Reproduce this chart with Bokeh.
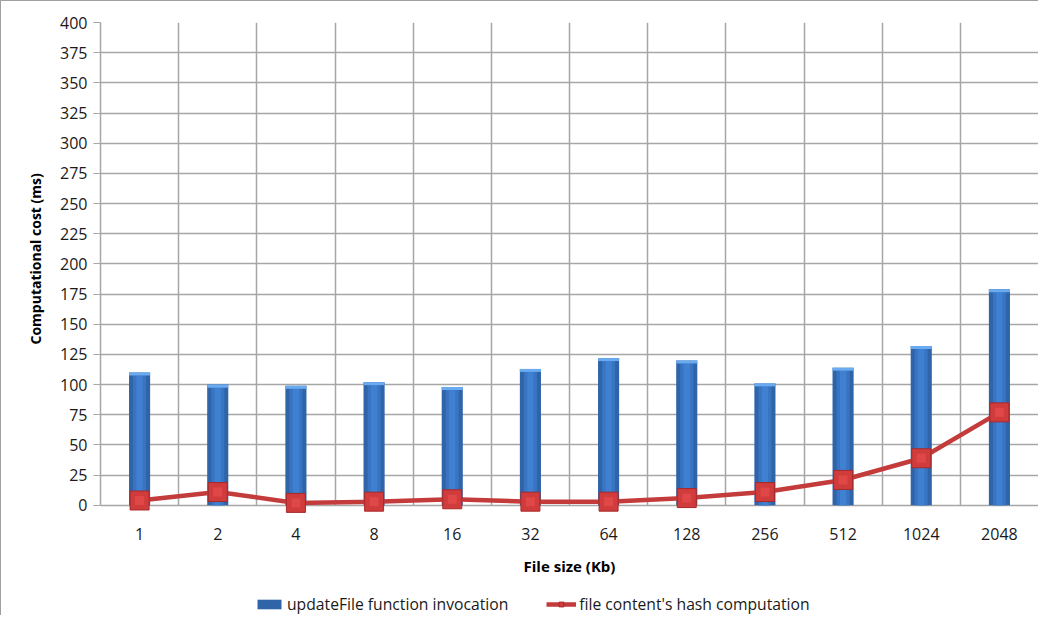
from bokeh.plotting import figure
from bokeh.models import FixedTicker, Legend, LegendItem, ColumnDataSource, Range1d, Title
from bokeh.core.properties import value
from bokeh.embed import file_html
from bokeh.resources import INLINE

# ---- data ----
file_sizes = ["1", "2", "4", "8", "16", "32", "64", "128", "256", "512", "1024", "2048"]
update_file_ms = [110, 100, 99, 102, 98, 113, 122, 120, 101, 114, 132, 179]
hash_ms = [4, 11, 2, 3, 5, 3, 3, 6, 11, 21, 39, 77]
y_ticks = list(range(0, 401, 25))
x_title = "File size (Kb)"
y_title = "Computational cost (ms)"

n = len(file_sizes)
xs = [i + 0.5 for i in range(n)]
cap = 2.5  # data units for the cylinder top cap
src = ColumnDataSource(dict(
    x=xs, label=file_sizes, top=update_file_ms, hash=hash_ms,
    captop=update_file_ms, capbot=[v - cap for v in update_file_ms],
    bodytop=[v - cap for v in update_file_ms],
))

FONT = "Open Sans"
GRID = "#a6a6a6"
TXT = "#1a1a1a"

# frame: top at 22px, value 0 at 504px, frame bottom at 614px (space for labels + legend)
H, TOP, BOT = 615, 21, 1
scale = (504 - 22) / 400.0
y_low = -(H - BOT - 504) / scale

p = figure(width=1038, height=H, output_backend="svg", toolbar_location=None,
           x_range=Range1d(0, n), y_range=Range1d(y_low, 400),
           min_border_left=99, min_border_right=1, min_border_top=TOP, min_border_bottom=BOT)
p.styles = {"border-left": "1px solid #a0a0a0", "border-top": "1px solid #a0a0a0"}
p.background_fill_color = "white"
p.border_fill_color = "white"
p.outline_line_color = None

# grid
p.xgrid.ticker = FixedTicker(ticks=list(range(0, n + 1)))
p.xgrid.cross_bounds = (0, 400)
p.ygrid.ticker = FixedTicker(ticks=y_ticks)
p.xgrid.grid_line_color = GRID
p.ygrid.grid_line_color = GRID
p.xgrid.grid_line_width = 1.5
p.ygrid.grid_line_width = 1.5

# x axis drawn as text inside the extended frame
p.xaxis.visible = False
p.text(x="x", y=0, text="label", source=src, y_offset=29,
       text_font=value(FONT), text_font_size="16px", text_color=TXT,
       text_align="center", text_baseline="middle")
p.text(x=[n / 2], y=[0], text=[x_title], y_offset=61,
       text_font=value(FONT), text_font_size="15px", text_font_style="bold",
       text_color="#000000", text_align="center", text_baseline="middle")

# y axis
yax = p.yaxis[0]
yax.bounds = (0, 400)
yax.ticker = FixedTicker(ticks=y_ticks)
yax.major_tick_out = 7
yax.major_tick_in = 0
yax.minor_tick_line_color = None
yax.major_tick_line_color = GRID
yax.major_label_standoff = 6
yax.axis_line_color = GRID
yax.axis_line_width = 1.5
yax.major_label_text_font = FONT
yax.major_label_text_font_size = "16px"
yax.major_label_text_color = TXT

ytitle = Title(text=y_title, align="left", offset=271, standoff=26,
               text_font=FONT, text_font_size="14px", text_font_style="bold",
               text_color="#000000")
p.add_layout(ytitle, "left")

# cylinder-like bars (layered)
W = 0.27
bars = p.vbar(x="x", top="top", bottom=0, width=W, source=src,
              fill_color="#2f64a8", line_color=None)
p.vbar(x="x", top="bodytop", bottom=0, width=W * 0.62, source=src,
       fill_color="#3874c2", line_color=None)
p.vbar(x="x", top="bodytop", bottom=0, width=W * 0.3, source=src,
       fill_color="#3f80d0", line_color=None)
p.vbar(x="x", top="captop", bottom="capbot", width=W, source=src,
       fill_color="#6aaaf0", line_color=None)

# hash computation line
ln = p.line(x="x", y="hash", source=src, line_color="#c33b3b", line_width=4.5)
mk = p.scatter(x="x", y="hash", source=src, marker="square", size=19,
               fill_color="#d03b3b", line_color="#a82a2a", line_width=1)
p.scatter(x="x", y="hash", source=src, marker="square", size=9,
          fill_color="#e04848", line_color=None)

legend = Legend(items=[
    LegendItem(label="updateFile function invocation", renderers=[bars]),
    LegendItem(label="file content's hash computation", renderers=[ln, mk]),
], location=(154, 0), orientation="horizontal")
legend.border_line_color = None
legend.background_fill_alpha = 0
legend.padding = 0
legend.margin = 0
legend.label_text_font = FONT
legend.label_text_font_size = "15.7px"
legend.label_text_color = TXT
legend.glyph_width = 30
legend.glyph_height = 12
legend.spacing = 38
legend.label_standoff = 3
p.add_layout(legend, "center")

open("out.html", "w").write(file_html(p, INLINE))
